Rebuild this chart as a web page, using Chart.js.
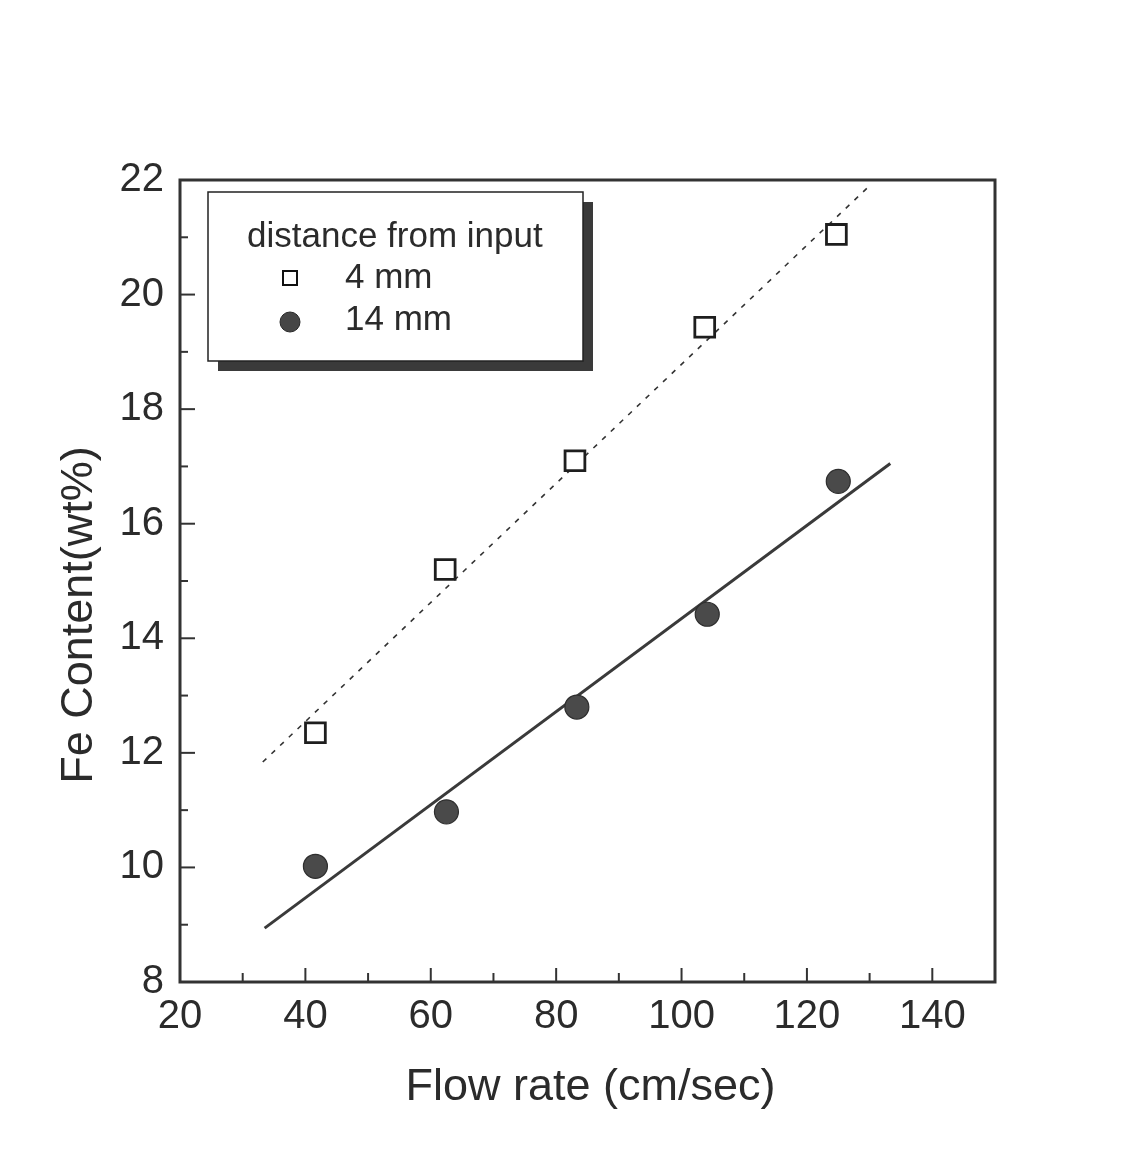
<!DOCTYPE html>
<html>
<head>
<meta charset="utf-8">
<script src="https://cdn.jsdelivr.net/npm/chart.js@4"></script>
<style>
html,body{margin:0;padding:0;background:#fff;}
#wrap{width:1143px;height:1150px;}
</style>
</head>
<body>
<div id="wrap"><canvas id="c" width="1143" height="1150"></canvas></div>
<script>
// ---- data ----
const flowRate4 = [41.6, 62.3, 83.0, 103.7, 124.7];
const fe4       = [12.35, 15.2, 17.1, 19.43, 21.05];
const flowRate14 = [41.6, 62.5, 83.3, 104.1, 125.0];
const fe14       = [10.02, 10.97, 12.8, 14.42, 16.74];
// fitted lines (end points)
const fit4X  = [33.2, 130.0];
const fit4Y  = [11.84, 21.9];
const fit14X = [33.5, 133.3];
const fit14Y = [8.94, 17.05];
// axes
const xMin = 20, xMax = 150, xStep = 10, xLabelEvery = 20;
const yMin = 8,  yMax = 22,  yStep = 1,  yLabelEvery = 2;
const legendTitle = 'distance from input';
const seriesNames = ['4 mm', '14 mm'];
const xTitle = 'Flow rate (cm/sec)';
const yTitle = 'Fe Content(wt%)';

const FONT = '"Liberation Sans", Arial, Helvetica, sans-serif';
const INK = '#2b2b2b';

const toPts = (xs, ys) => xs.map((x, i) => ({x, y: ys[i]}));

const frameAndTicks = {
  id: 'frameAndTicks',
  afterDatasetsDraw(chart) {
    const {ctx, chartArea: a, scales} = chart;
    ctx.save();
    ctx.strokeStyle = '#333';
    ctx.lineWidth = 2;
    scales.x.ticks.forEach(t => {
      if (t.value <= xMin || t.value >= xMax) return;
      const px = scales.x.getPixelForValue(t.value);
      const len = (t.value % xLabelEvery === 0) ? 14 : 9;
      ctx.beginPath(); ctx.moveTo(px, a.bottom); ctx.lineTo(px, a.bottom - len); ctx.stroke();
    });
    scales.y.ticks.forEach(t => {
      if (t.value <= yMin || t.value >= yMax) return;
      const py = scales.y.getPixelForValue(t.value);
      const len = (t.value % yLabelEvery === 0) ? 15 : 8;
      ctx.beginPath(); ctx.moveTo(a.left, py); ctx.lineTo(a.left + len, py); ctx.stroke();
    });
    ctx.lineWidth = 3;
    ctx.strokeRect(a.left, a.top, a.right - a.left, a.bottom - a.top);
    ctx.restore();
  }
};

const axisTitles = {
  id: 'axisTitles',
  afterDraw(chart) {
    const {ctx, chartArea: a} = chart;
    ctx.save();
    ctx.fillStyle = INK;
    ctx.font = '45px ' + FONT;
    ctx.textAlign = 'center';
    ctx.textBaseline = 'alphabetic';
    ctx.fillText(xTitle, (a.left + a.right) / 2 + 3, a.bottom + 118);
    ctx.translate(a.left - 88, (a.top + a.bottom) / 2 + 34);
    ctx.rotate(-Math.PI / 2);
    ctx.fillText(yTitle, 0, 0);
    ctx.restore();
  }
};

const boxLegend = {
  id: 'boxLegend',
  afterDraw(chart) {
    const {ctx, chartArea: a} = chart;
    const bx = a.left + 28, by = a.top + 12, bw = 375, bh = 169;
    ctx.save();
    ctx.fillStyle = '#3a3a3a';
    ctx.fillRect(bx + 10, by + 10, bw, bh);
    ctx.fillStyle = '#fff';
    ctx.fillRect(bx, by, bw, bh);
    ctx.strokeStyle = '#222';
    ctx.lineWidth = 1.5;
    ctx.strokeRect(bx, by, bw, bh);
    ctx.fillStyle = INK;
    ctx.font = '35px ' + FONT;
    ctx.textBaseline = 'alphabetic';
    ctx.textAlign = 'left';
    ctx.fillText(legendTitle, bx + 39, by + 55);
    ctx.fillText(seriesNames[0], bx + 137, by + 96);
    ctx.fillText(seriesNames[1], bx + 137, by + 138);
    const mx = bx + 82;
    ctx.strokeStyle = '#111'; ctx.lineWidth = 2;
    ctx.fillStyle = '#fff';
    ctx.fillRect(mx - 7, by + 86 - 7, 14, 14);
    ctx.strokeRect(mx - 7, by + 86 - 7, 14, 14);
    ctx.beginPath(); ctx.arc(mx, by + 130, 10, 0, Math.PI * 2);
    ctx.fillStyle = '#464646'; ctx.fill();
    ctx.strokeStyle = '#2a2a2a'; ctx.lineWidth = 1; ctx.stroke();
    ctx.restore();
  }
};

new Chart(document.getElementById('c'), {
  type: 'scatter',
  data: {
    datasets: [
      { label: 'fit 4 mm', data: toPts(fit4X, fit4Y), showLine: true, borderColor: '#333',
        borderWidth: 1.6, borderDash: [5, 7], pointRadius: 0, fill: false, order: 3 },
      { label: 'fit 14 mm', data: toPts(fit14X, fit14Y), showLine: true, borderColor: '#3a3a3a',
        borderWidth: 3, pointRadius: 0, fill: false, order: 3 },
      { label: seriesNames[0], data: toPts(flowRate4, fe4), pointStyle: 'rect', pointRadius: 14,
        backgroundColor: '#fff', borderColor: '#1e1e1e', borderWidth: 2.8, order: 1 },
      { label: seriesNames[1], data: toPts(flowRate14, fe14), pointStyle: 'circle', pointRadius: 12,
        backgroundColor: '#4a4a4a', borderColor: '#2e2e2e', borderWidth: 1.2, order: 1 }
    ]
  },
  options: {
    responsive: false,
    devicePixelRatio: 1,
    animation: false,
    layout: { padding: { left: 0, top: 180, right: 148, bottom: 0 } },
    plugins: { legend: { display: false }, tooltip: { enabled: false } },
    scales: {
      x: {
        type: 'linear', min: xMin, max: xMax,
        grid: { display: false, drawTicks: false },
        border: { display: false },
        ticks: { stepSize: xStep, autoSkip: false, maxRotation: 0, padding: 11, color: INK,
          font: { family: FONT, size: 40 },
          callback: v => (v % xLabelEvery === 0 && v < xMax) ? String(v) : '' },
        title: { display: false },
        afterFit: s => { s.height = 168; }
      },
      y: {
        type: 'linear', min: yMin, max: yMax,
        grid: { display: false, drawTicks: false },
        border: { display: false },
        ticks: { stepSize: yStep, autoSkip: false, padding: 16, color: INK,
          font: { family: FONT, size: 40 },
          callback: v => (v % yLabelEvery === 0) ? String(v) : '' },
        title: { display: false },
        afterFit: s => { s.width = 180; }
      }
    }
  },
  plugins: [frameAndTicks, boxLegend, axisTitles]
});
</script>
</body>
</html>
